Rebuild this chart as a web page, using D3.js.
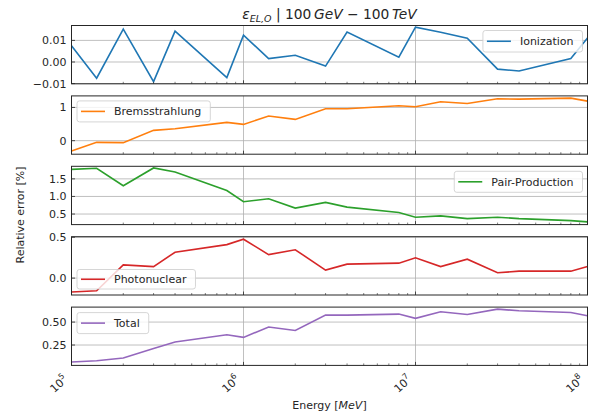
<!DOCTYPE html>
<html><head><meta charset="utf-8">
<script src="https://cdn.jsdelivr.net/npm/d3@7"></script>
<style>body{margin:0;background:#fff}text{font-family:"DejaVu Sans",sans-serif;fill:#262626}</style>
</head><body><svg id="c" width="591" height="418"></svg>
<script>
const energies = [1e5,1.4e5,2e5,3e5,4e5,8e5,1e6,1.4e6,2e6,3e6,4e6,8e6,1e7,1.4e7,2e7,3e7,4e7,8e7,1e8];
const ionization = [0.0075,-0.0075,0.0152,-0.0091,0.0143,-0.0072,0.0124,0.0016,0.0031,-0.0019,0.0139,0.0022,0.0161,0.0138,0.011,-0.0033,-0.0042,0.0016,0.0111];
const bremsstrahlung = [-0.31,-0.05,-0.06,0.31,0.36,0.55,0.49,0.74,0.64,0.96,0.96,1.05,1.02,1.17,1.12,1.26,1.25,1.28,1.19];
const pairProduction = [1.771,1.8,1.306,1.81,1.697,1.17,0.849,0.934,0.67,0.83,0.697,0.543,0.41,0.449,0.371,0.41,0.371,0.314,0.277];
const photonuclear = [-0.171,-0.155,0.162,0.141,0.317,0.41,0.476,0.288,0.347,0.098,0.171,0.183,0.248,0.141,0.232,0.065,0.085,0.085,0.141];
const total = [0.065,0.078,0.109,0.212,0.283,0.362,0.333,0.446,0.409,0.576,0.576,0.587,0.54,0.613,0.583,0.641,0.623,0.605,0.569];
const seriesNames = ["Ionization","Bremsstrahlung","Pair-Production","Photonuclear","Total"];
const seriesValues = [ionization,bremsstrahlung,pairProduction,photonuclear,total];
const colors = ["#1f77b4","#ff7f0e","#2ca02c","#d62728","#9467bd"];
const yDomains = [[-0.0101,0.0169],[-0.407,1.347],[0.2,1.857],[-0.207,0.507],[0.028,0.663]];
const yTicks = [[-0.01,0,0.01],[0,1],[0.5,1.0,1.5],[0,0.5],[0.25,0.5]];
const yFormats = [".2f","d",".1f",".1f",".2f"];
const xTickExps = [5,6,7,8];
const legendSide = ["right","left","right","left","left"];

const svg = d3.select("#c");
const L = 71.5, R = 587.5, top0 = 25.5, step = 70.4, H = 58.3;
const x = d3.scaleLog().domain([1e5,1e8]).range([L,R]);
const minor = [];
for (let e=5;e<8;e++) for (let k=2;k<=9;k++) minor.push(k*Math.pow(10,e));

seriesNames.forEach((name,i)=>{
  const t = top0 + i*step, b = t + H;
  const y = d3.scaleLinear().domain(yDomains[i]).range([b,t]);
  const g = svg.append("g");
  const fmt = d3.format(yFormats[i]);
  yTicks[i].forEach(v=>{
    g.append("line").attr("x1",L).attr("x2",R).attr("y1",y(v)).attr("y2",y(v))
      .attr("stroke","#b0b0b0").attr("stroke-width",0.8);
  });
  [1e6,1e7].forEach(v=>{
    g.append("line").attr("x1",x(v)).attr("x2",x(v)).attr("y1",t).attr("y2",b)
      .attr("stroke","#b0b0b0").attr("stroke-width",0.8);
  });
  const line = d3.line().x((d,j)=>x(energies[j])).y(d=>y(d));
  g.append("path").datum(seriesValues[i]).attr("d",line).attr("fill","none")
    .attr("stroke",colors[i]).attr("stroke-width",1.6);
  minor.forEach(v=>{
    g.append("line").attr("x1",x(v)).attr("x2",x(v)).attr("y1",b).attr("y2",b-2)
      .attr("stroke","#262626").attr("stroke-width",0.6);
  });
  xTickExps.forEach(e=>{
    const v=Math.pow(10,e);
    g.append("line").attr("x1",x(v)).attr("x2",x(v)).attr("y1",b).attr("y2",b-3.5)
      .attr("stroke","#262626").attr("stroke-width",0.8);
  });
  yTicks[i].forEach(v=>{
    g.append("line").attr("x1",L).attr("x2",L+3.5).attr("y1",y(v)).attr("y2",y(v))
      .attr("stroke","#262626").attr("stroke-width",0.8);
    g.append("text").attr("x",L-5).attr("y",y(v)).attr("dy","0.36em")
      .attr("text-anchor","end").attr("font-size",11)
      .text(fmt(v).replace("-","\u2212"));
  });
  g.append("rect").attr("x",L).attr("y",t).attr("width",R-L).attr("height",H)
    .attr("fill","none").attr("stroke","#262626").attr("stroke-width",1);
  const txt = g.append("text").attr("font-size",11).text(name);
  const w = txt.node().getComputedTextLength() + 46;
  const lx = legendSide[i]==="right" ? R-5-w : L+5.5;
  let ly = t+5;
  if (i===3) ly = t+32.8;
  if (i===4) ly = t+5.5;
  const lh = i===0 ? 21.5 : (i===3 ? 19.5 : 21);
  g.insert("rect","text").attr("x",lx).attr("y",ly).attr("width",w).attr("height",lh)
    .attr("rx",2.5).attr("fill","#fff").attr("fill-opacity",0.8)
    .attr("stroke","#cccccc").attr("stroke-width",0.8);
  g.append("line").attr("x1",lx+4).attr("x2",lx+28).attr("y1",ly+lh/2).attr("y2",ly+lh/2)
    .attr("stroke",colors[i]).attr("stroke-width",1.6);
  txt.attr("x",lx+37).attr("y",ly+lh/2).attr("dy","0.36em");
  txt.raise();
  if (i===seriesNames.length-1) {
    xTickExps.forEach(e=>{
      const tx = svg.append("text").attr("font-size",11).attr("text-anchor","end")
        .attr("transform",`translate(${x(Math.pow(10,e))-3},${b+15}) rotate(-42)`);
      tx.append("tspan").text("10");
      tx.append("tspan").attr("font-size",8).attr("dy",-5).text(String(e));
    });
  }
});

const title = svg.append("text").attr("x",(L+R)/2).attr("y",19).attr("text-anchor","middle").attr("font-size",13.8);
title.append("tspan").attr("font-style","italic").text("\u03b5");
title.append("tspan").attr("font-style","italic").attr("font-size",9.5).attr("dy",3).text("EL,O");
title.append("tspan").attr("dy",-3).text(" | 100\u2009");
title.append("tspan").attr("font-style","italic").text("GeV");
title.append("tspan").text(" \u2212 100\u2009");
title.append("tspan").attr("font-style","italic").text("TeV");

const xl = svg.append("text").attr("x",(L+R)/2).attr("y",409).attr("text-anchor","middle").attr("font-size",11);
xl.append("tspan").text("Energy [");
xl.append("tspan").attr("font-style","italic").text("MeV");
xl.append("tspan").text("]");
svg.append("text").attr("transform","translate(24,215) rotate(-90)").attr("text-anchor","middle")
  .attr("font-size",11).text("Relative error [%]");
</script></body></html>
